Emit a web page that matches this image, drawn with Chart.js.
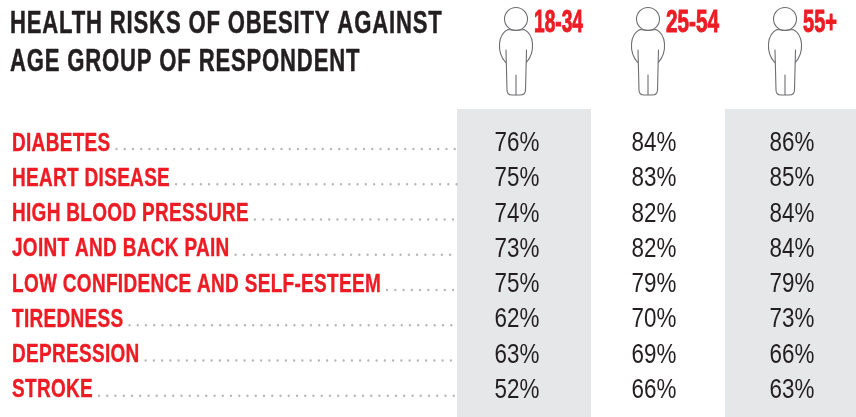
<!doctype html>
<html lang="en">
  <head>
    <meta charset="utf-8">
    <title>Health risks of obesity against age group of respondent</title>
    <style>
      * { margin: 0; padding: 0; }
      html, body { width: 856px; height: 417px; overflow: hidden; background: #fff; }
      canvas { display: block; }
    </style>
  </head>
  <body>
    <canvas id="myChart" width="860" height="417"></canvas>
    <script src="https://cdn.jsdelivr.net/npm/chart.js@4/dist/chart.umd.min.js"></script>
    <script>
    // data
    const titleLines = ['HEALTH RISKS OF OBESITY AGAINST', 'AGE GROUP OF RESPONDENT'];
    const ageGroups = ['18-34', '25-54', '55+'];
    const risks = ['DIABETES', 'HEART DISEASE', 'HIGH BLOOD PRESSURE', 'JOINT AND BACK PAIN',
      'LOW CONFIDENCE AND SELF-ESTEEM', 'TIREDNESS', 'DEPRESSION', 'STROKE'];
    const young = [76, 75, 74, 73, 75, 62, 63, 52];
    const middle = [84, 83, 82, 82, 79, 70, 69, 66];
    const older = [86, 85, 84, 84, 79, 73, 66, 63];

    const RED = '#ed1c24', INK = '#231f20', BAND = '#e6e7e8', DOT = '#b5b7b9', ICON = '#6d6e71';
    const SANS = '"Liberation Sans", sans-serif';

    // column tweaks, the numbers are not quite centred in the source
    const textShift = [-7, -4, 0];
    const iconShift = [-8, -10, -7];
    const headWidth = [49, 53, 34];

    // no narrow font installed, so squeeze the text horizontally
    function squeezed(ctx, text, x, y, sx, heavy) {
      ctx.save();
      ctx.translate(x, y);
      ctx.scale(sx, 1);
      ctx.fillText(text, 0, 0);
      if (heavy) {
        ctx.strokeStyle = ctx.fillStyle;
        ctx.lineWidth = heavy;
        ctx.lineJoin = 'round';
        ctx.strokeText(text, 0, 0);
      }
      ctx.restore();
    }

    function person(ctx, x) {
      ctx.save();
      ctx.translate(x, 0);
      ctx.strokeStyle = ICON;
      ctx.lineWidth = 1.1;
      ctx.beginPath();
      ctx.arc(0, 19, 11.5, 0, Math.PI * 2);
      ctx.stroke();
      ctx.beginPath();
      ctx.moveTo(-10, 63);
      ctx.bezierCurveTo(-20, 52, -18, 34, -8, 29.5);
      ctx.quadraticCurveTo(0, 31, 8, 29.5);
      ctx.bezierCurveTo(18, 34, 20, 52, 10, 63);
      ctx.moveTo(-10, 50);
      ctx.lineTo(-9, 90);
      ctx.quadraticCurveTo(-9, 95, -4, 95);
      ctx.lineTo(4, 95);
      ctx.quadraticCurveTo(9.5, 95, 9.5, 90);
      ctx.lineTo(10.5, 50);
      ctx.moveTo(0, 75);
      ctx.lineTo(0, 95);
      ctx.stroke();
      ctx.restore();
    }

    const tablePlugin = {
      id: 'table',
      beforeDatasetsDraw(chart) {
        const { ctx, scales: { x } } = chart;
        const colW = x.getPixelForValue(1) - x.getPixelForValue(0);
        ctx.save();
        ctx.fillStyle = BAND;
        [0, 2].forEach(i => {
          ctx.fillRect(x.getPixelForValue(i) - colW / 2, 109, colW, 417 - 109);
        });
        ctx.restore();
      },
      afterDatasetsDraw(chart) {
        const { ctx, scales: { x, y } } = chart;
        const colW = x.getPixelForValue(1) - x.getPixelForValue(0);
        ctx.save();
        ctx.textBaseline = 'alphabetic';
        ctx.textAlign = 'left';

        // title
        ctx.fillStyle = INK;
        ctx.font = 'bold 32px ' + SANS;
        ctx.letterSpacing = '1.2px';
        titleLines.forEach((t, i) => squeezed(ctx, t, 10, 33 + i * 38, 0.69, 0.5));

        // row labels + dotted leaders
        risks.forEach((r, i) => {
          const py = y.getPixelForValue(i);
          ctx.font = 'bold 25px ' + SANS;
          ctx.letterSpacing = '0.4px';
          ctx.fillStyle = RED;
          squeezed(ctx, r, 12, py + 9.5, 0.76, 0.4);
          const end = 12 + ctx.measureText(r).width * 0.76 + 6;
          ctx.strokeStyle = DOT;
          ctx.lineWidth = 2.4;
          ctx.lineCap = 'round';
          ctx.setLineDash([0, 8.25]);
          ctx.beginPath();
          ctx.moveTo(end, py + 8);
          ctx.lineTo(x.getPixelForValue(0) - colW / 2, py + 8);
          ctx.stroke();
          ctx.setLineDash([]);
        });

        // column headers
        ctx.letterSpacing = '0px';
        ageGroups.forEach((g, i) => {
          const cx = x.getPixelForValue(i);
          person(ctx, cx + iconShift[i]);
          ctx.font = 'bold 31px ' + SANS;
          ctx.fillStyle = RED;
          const sx = headWidth[i] / ctx.measureText(g).width;
          squeezed(ctx, g, cx + iconShift[i] + 18, 32, sx, 1);
        });

        // values, placed at the points of each dataset
        ctx.font = '28px ' + SANS;
        ctx.fillStyle = INK;
        ctx.textAlign = 'center';
        chart.data.datasets.forEach((ds, di) => {
          chart.getDatasetMeta(di).data.forEach((pt, i) => {
            squeezed(ctx, ds.data[i].v + '%', pt.x + textShift[di], pt.y + 10, 0.8);
          });
        });
        ctx.restore();
      }
    };

    const series = [young, middle, older];

    const config = {
      type: 'scatter',
      data: {
        datasets: series.map((vals, c) => ({
          label: ageGroups[c],
          data: vals.map((v, i) => ({ x: ageGroups[c], y: risks[i], v })),
          pointRadius: 0
        }))
      },
      options: {
        responsive: false,
        animation: false,
        layout: { padding: { left: 457, right: 1, top: 123.4, bottom: 11.6 } },
        plugins: { legend: { display: false }, tooltip: { enabled: false } },
        scales: {
          x: { type: 'category', labels: ageGroups, offset: true, display: false },
          y: { type: 'category', labels: risks, offset: true, display: false }
        }
      },
      plugins: [tablePlugin]
    };

    const myChart = new Chart(document.getElementById('myChart'), config);
    </script>
  </body>
</html>
